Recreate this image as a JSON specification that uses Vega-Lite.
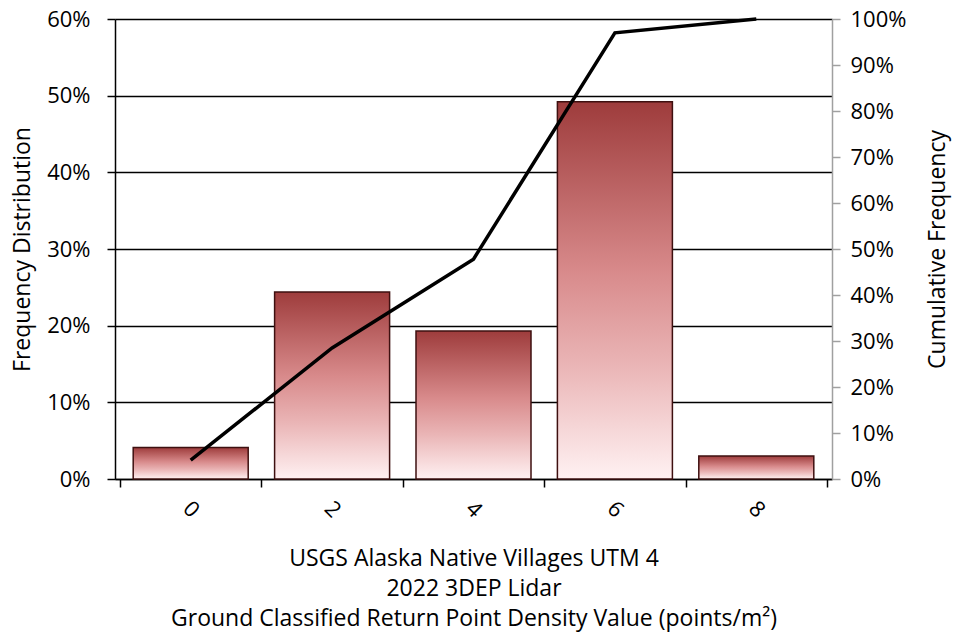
{
  "$schema": "https://vega.github.io/schema/vega-lite/v6.json",
  "width": 717,
  "height": 460,
  "autosize": "none",
  "padding": {"left": 115, "top": 19, "right": 124, "bottom": 160},
  "background": "white",
  "config": {
    "font": "Open Sans",
    "view": {"stroke": null},
    "axis": {
      "labelFont": "Open Sans",
      "titleFont": "Open Sans",
      "labelFontSize": 22,
      "titleFontSize": 23,
      "titleFontWeight": "normal",
      "labelColor": "black",
      "titleColor": "black"
    }
  },
  "data": {
    "values": [
      {"density": 0, "freq": 0.041, "cum": 0.041},
      {"density": 2, "freq": 0.244, "cum": 0.285},
      {"density": 4, "freq": 0.193, "cum": 0.478},
      {"density": 6, "freq": 0.492, "cum": 0.97},
      {"density": 8, "freq": 0.03, "cum": 1.0}
    ]
  },
  "layer": [
    {
      "mark": {
        "type": "bar",
        "size": 115,
        "color": {
          "gradient": "linear",
          "x1": 0, "y1": 0, "x2": 0, "y2": 1,
          "stops": [
            {"offset": 0, "color": "#9e3c3c"},
            {"offset": 0.45, "color": "#d88a8b"},
            {"offset": 0.7, "color": "#eab5b6"},
            {"offset": 1, "color": "#fff1f2"}
          ]
        },
        "stroke": "#3e1010",
        "strokeWidth": 1.5
      },
      "encoding": {
        "x": {
          "field": "density",
          "type": "quantitative",
          "scale": {"domain": [-1, 9], "nice": false, "zero": false},
          "axis": {
            "orient": "bottom",
            "values": [0, 2, 4, 6, 8],
            "format": "d",
            "ticks": false,
            "domain": false,
            "grid": false,
            "labelAngle": 45,
            "labelAlign": "center",
            "labelBaseline": "middle",
            "labelPadding": 30,
            "title": ["USGS Alaska Native Villages UTM 4", "2022 3DEP Lidar", "Ground Classified Return Point Density Value (points/m²)"],
            "titleLineHeight": 30,
            "titlePadding": 26
          }
        },
        "y": {
          "field": "freq",
          "type": "quantitative",
          "scale": {"domain": [0, 0.6], "nice": false},
          "axis": {
            "values": [0, 0.1, 0.2, 0.3, 0.4, 0.5, 0.6],
            "format": ".0%",
            "grid": true,
            "gridColor": "black",
            "gridWidth": 1.5,
            "gridOpacity": 1,
            "domainColor": "black",
            "domainWidth": 1.5,
            "tickColor": "black",
            "tickSize": 8,
            "tickWidth": 1.5,
            "labelPadding": 17,
            "title": "Frequency Distribution",
            "titlePadding": 12
          }
        }
      }
    },
    {
      "mark": {"type": "line", "color": "black", "strokeWidth": 3.5},
      "encoding": {
        "x": {
          "field": "density",
          "type": "quantitative",
          "scale": {"domain": [-1, 9], "nice": false, "zero": false},
          "axis": {
            "orient": "bottom",
            "values": [-1, 1, 3, 5, 7, 9],
            "labels": false,
            "grid": false,
            "domainColor": "black",
            "domainWidth": 1.5,
            "tickColor": "black",
            "tickWidth": 1.5,
            "tickSize": 8,
            "title": null
          }
        },
        "y": {
          "field": "cum",
          "type": "quantitative",
          "scale": {"domain": [0, 1], "nice": false},
          "axis": {
            "orient": "right",
            "values": [0, 0.1, 0.2, 0.3, 0.4, 0.5, 0.6, 0.7, 0.8, 0.9, 1.0],
            "format": ".0%",
            "grid": false,
            "domainColor": "#a0a0a0",
            "domainWidth": 1.5,
            "tickColor": "#a0a0a0",
            "tickSize": 8,
            "tickWidth": 1.5,
            "labelPadding": 10,
            "title": "Cumulative Frequency",
            "titleAngle": 270,
            "titlePadding": 44
          }
        }
      }
    }
  ],
  "resolve": {"scale": {"y": "independent"}, "axis": {"x": "independent"}}
}
